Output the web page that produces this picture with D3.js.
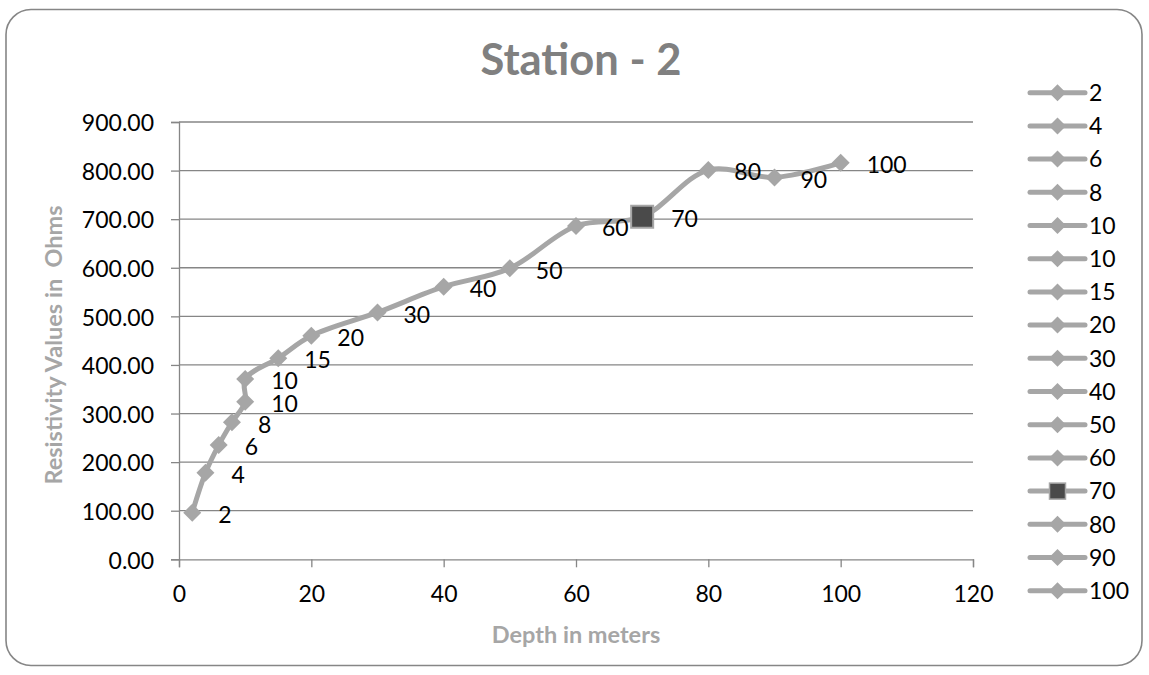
<!DOCTYPE html>
<html>
<head>
<meta charset="utf-8">
<script src="https://cdn.jsdelivr.net/npm/d3@7"></script>
<style>
  html, body { margin: 0; padding: 0; background: #fff; }
  svg { display: block; }
  text { font-family: Lato, "Open Sans", sans-serif; }
</style>
</head>
<body>
<svg id="chart" width="1149" height="675"></svg>
<script>
// ---- data ----
const depths = [2, 4, 6, 8, 10, 10, 15, 20, 30, 40, 50, 60, 70, 80, 90, 100];
const resistivity = [96, 178, 235, 282, 324, 371, 414, 460, 508, 561, 599, 686, 705, 801, 786, 816];
const pointLabels = ["2", "4", "6", "8", "10", "10", "15", "20", "30", "40", "50", "60", "70", "80", "90", "100"];
const highlightIndex = 12; // the "70" point drawn with a dark square marker
const xTicks = [0, 20, 40, 60, 80, 100, 120];
const yTicks = [0, 100, 200, 300, 400, 500, 600, 700, 800, 900];
const titleText = "Station - 2";
const xTitle = "Depth in meters";
const yTitle = "Resistivity Values in  Ohms";

// ---- layout ----
const svg = d3.select("#chart");
const plot = { left: 179, right: 973, top: 122, bottom: 559.3 };
const lineColor = "#a6a6a6";
const gridColor = "#868686";

svg.append("rect")
  .attr("x", 6).attr("y", 9.5).attr("width", 1136).attr("height", 656)
  .attr("rx", 25).attr("ry", 25)
  .attr("fill", "#fff").attr("stroke", "#868686").attr("stroke-width", 1.6);

const x = d3.scaleLinear().domain([0, 120]).range([plot.left, plot.right]);
const y = d3.scaleLinear().domain([0, 900]).range([plot.bottom, plot.top]);

// gridlines
svg.append("g")
  .selectAll("line").data(yTicks.filter(d => d > 0)).join("line")
  .attr("x1", plot.left).attr("x2", plot.right)
  .attr("y1", d => y(d)).attr("y2", d => y(d))
  .attr("stroke", gridColor).attr("stroke-width", 1.3);

// y axis
const yAxis = svg.append("g")
  .attr("transform", `translate(${plot.left},0)`)
  .call(d3.axisLeft(y).tickValues(yTicks).tickFormat(d3.format(".2f")).tickSize(8).tickPadding(17));
yAxis.select(".domain").attr("stroke", gridColor).attr("stroke-width", 1.3);
yAxis.selectAll(".tick line").attr("stroke", gridColor).attr("stroke-width", 1.3);
yAxis.selectAll(".tick text")
  .attr("fill", "#000").attr("font-size", 23).attr("dy", "0.38em")
  .style("font-family", "Lato, sans-serif");

// x axis
const xAxis = svg.append("g")
  .attr("transform", `translate(0,${plot.bottom})`)
  .call(d3.axisBottom(x).tickValues(xTicks).tickFormat(d3.format("d")).tickSize(8).tickPadding(18));
xAxis.select(".domain").attr("stroke", gridColor).attr("stroke-width", 1.3);
xAxis.selectAll(".tick line").attr("stroke", gridColor).attr("stroke-width", 1.3);
xAxis.selectAll(".tick text")
  .attr("fill", "#000").attr("font-size", 23)
  .style("font-family", "Lato, sans-serif");

// series line
const pts = depths.map((d, i) => ({ x: d, y: resistivity[i], label: pointLabels[i], i }));
const line = d3.line().x(d => x(d.x)).y(d => y(d.y)).curve(d3.curveCatmullRom.alpha(0.5));
svg.append("path")
  .datum(pts)
  .attr("d", line)
  .attr("fill", "none")
  .attr("stroke", lineColor)
  .attr("stroke-width", 5)
  .attr("stroke-linejoin", "round")
  .attr("stroke-linecap", "round");

// markers
const diamond = (cx, cy, r) => `M${cx},${cy - r}L${cx + r},${cy}L${cx},${cy + r}L${cx - r},${cy}Z`;
svg.append("g").selectAll("path").data(pts.filter(d => d.i !== highlightIndex)).join("path")
  .attr("d", d => diamond(x(d.x), y(d.y), 9))
  .attr("fill", lineColor);
const hp = pts[highlightIndex];
svg.append("rect")
  .attr("x", x(hp.x) - 11).attr("y", y(hp.y) - 11)
  .attr("width", 22).attr("height", 22)
  .attr("fill", "#4a4a4a").attr("stroke", lineColor).attr("stroke-width", 2);

// data labels
svg.append("g").selectAll("text").data(pts).join("text")
  .attr("x", d => x(d.x) + (d.i === highlightIndex ? 29 : 26))
  .attr("y", d => y(d.y) + 2)
  .attr("dy", "0.36em")
  .attr("font-size", 23)
  .attr("fill", "#000")
  .text(d => d.label);

// title
svg.append("text")
  .attr("x", 581).attr("y", 75)
  .attr("text-anchor", "middle")
  .attr("font-size", 43.5).attr("font-weight", "bold")
  .attr("fill", "#808080")
  .text(titleText);

// axis titles
svg.append("text")
  .attr("x", 576).attr("y", 643)
  .attr("text-anchor", "middle")
  .attr("font-size", 23.5).attr("font-weight", "bold")
  .attr("fill", "#a6a6a6")
  .text(xTitle);

svg.append("text")
  .attr("transform", "translate(62,345) rotate(-90)")
  .attr("text-anchor", "middle")
  .attr("font-size", 23.5).attr("font-weight", "bold")
  .attr("fill", "#a6a6a6")
  .style("white-space", "pre")
  .attr("xml:space", "preserve")
  .text(yTitle);

// legend
const legend = svg.append("g");
const legendRows = legend.selectAll("g").data(pts).join("g")
  .attr("transform", (d, k) => `translate(0,${92.7 + k * 33.2})`);
legendRows.append("line")
  .attr("x1", 1030).attr("x2", 1085).attr("y1", 0).attr("y2", 0)
  .attr("stroke", lineColor).attr("stroke-width", 5).attr("stroke-linecap", "round");
legendRows.filter(d => d.i !== highlightIndex).append("path")
  .attr("d", diamond(1057.5, 0, 8.5))
  .attr("fill", lineColor);
legendRows.filter(d => d.i === highlightIndex).append("rect")
  .attr("x", 1049.5).attr("y", -8).attr("width", 16).attr("height", 16)
  .attr("fill", "#4a4a4a").attr("stroke", lineColor).attr("stroke-width", 1.5);
legendRows.append("text")
  .attr("x", 1089).attr("y", 0).attr("dy", "0.36em")
  .attr("font-size", 23).attr("fill", "#000")
  .text(d => d.label);
</script>
</body>
</html>
